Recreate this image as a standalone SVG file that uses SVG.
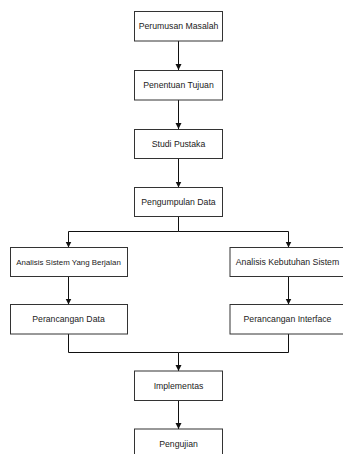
<svg xmlns="http://www.w3.org/2000/svg" width="343" height="454" viewBox="0 0 343 454">
<defs>
<style>
.box{fill:#ffffff;stroke:#333333;stroke-width:1}
.lbl{font-family:"Liberation Sans",Arial,sans-serif;font-size:8.7px;fill:#222222;text-anchor:middle;dominant-baseline:central}
.edge{fill:none;stroke:#111111;stroke-width:1}
</style>
<marker id="arr" markerUnits="userSpaceOnUse" markerWidth="8" markerHeight="8" refX="6" refY="3" orient="auto">
<path d="M0,0 L6,3 L0,6 Z" fill="#111111"/>
</marker>
</defs>
<rect width="343" height="454" fill="#ffffff"/>
<g id="connectors">
<path class="edge" d="M178.5,41 V70" marker-end="url(#arr)"/>
<path class="edge" d="M178.5,100 V129" marker-end="url(#arr)"/>
<path class="edge" d="M178.5,158.5 V187.5" marker-end="url(#arr)"/>
<path class="edge" d="M178.5,216.5 V231.5 H68.5 V247.5" marker-end="url(#arr)"/>
<path class="edge" d="M178.5,231.5 H288.5 V247.5" marker-end="url(#arr)"/>
<path class="edge" d="M68.5,276.5 V304.5" marker-end="url(#arr)"/>
<path class="edge" d="M288.5,276.5 V304.5" marker-end="url(#arr)"/>
<path class="edge" d="M68.5,334 V352.5 H178.5 V371" marker-end="url(#arr)"/>
<path class="edge" d="M288.5,334 V352.5 H178.5"/>
<path class="edge" d="M178.5,400.5 V429" marker-end="url(#arr)"/>
</g>
<g id="perumusan-masalah">
<rect class="box" x="134.5" y="11.5" width="88" height="29.5"/>
<text class="lbl" x="178.5" y="26.3">Perumusan Masalah</text>
</g>
<g id="penentuan-tujuan">
<rect class="box" x="134.5" y="70.5" width="88" height="29.5"/>
<text class="lbl" x="178.5" y="85.3">Penentuan Tujuan</text>
</g>
<g id="studi-pustaka">
<rect class="box" x="134.5" y="129.5" width="88" height="29"/>
<text class="lbl" x="178.5" y="144">Studi Pustaka</text>
</g>
<g id="pengumpulan-data">
<rect class="box" x="134.5" y="187.5" width="88" height="29"/>
<text class="lbl" x="178.5" y="202">Pengumpulan Data</text>
</g>
<g id="analisis-sistem">
<rect class="box" x="10.5" y="247.5" width="117" height="29"/>
<text class="lbl" x="68.5" y="262" style="font-size:7.9px">Analisis Sistem Yang Berjalan</text>
</g>
<g id="perancangan-data">
<rect class="box" x="10.5" y="304.5" width="117" height="29.5"/>
<text class="lbl" x="68.5" y="319.3">Perancangan Data</text>
</g>
<g id="analisis-kebutuhan">
<rect class="box" x="230" y="247.5" width="117" height="29"/>
<text class="lbl" x="287.5" y="262">Analisis Kebutuhan Sistem</text>
</g>
<g id="perancangan-interface">
<rect class="box" x="230" y="304.5" width="117" height="29.5"/>
<text class="lbl" x="287.5" y="319.3">Perancangan Interface</text>
</g>
<g id="implementas">
<rect class="box" x="134.5" y="371" width="88" height="29.5"/>
<text class="lbl" x="178.5" y="385.8">Implementas</text>
</g>
<g id="pengujian">
<rect class="box" x="134.5" y="429" width="88" height="30"/>
<text class="lbl" x="178.5" y="444">Pengujian</text>
</g>
</svg>
